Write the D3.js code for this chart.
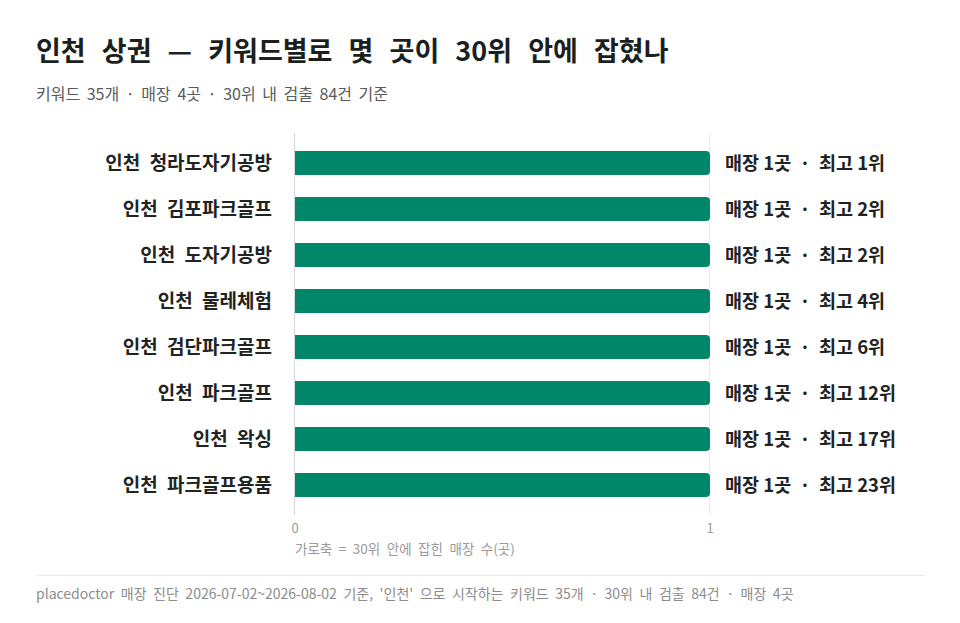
<!DOCTYPE html>
<html>
<head>
<meta charset="utf-8">
<script src="https://cdn.jsdelivr.net/npm/d3@7"></script>
<style>
  body { margin: 0; background: #fff; }
  svg { font-family: "Noto Sans CJK KR", "Noto Sans", sans-serif; display: block; }
</style>
</head>
<body>
<svg id="chart" width="960" height="623"></svg>
<script>
// 키워드별 30위 안 매장 수 / 최고 순위
let keywords = ['인천 청라도자기공방', '인천 김포파크골프', '인천 도자기공방', '인천 물레체험',
    '인천 검단파크골프', '인천 파크골프', '인천 왁싱', '인천 파크골프용품']
let storeCounts = [1, 1, 1, 1, 1, 1, 1, 1]
let bestRanks = [1, 2, 2, 4, 6, 12, 17, 23]
let xTicks = [0, 1]

let data = keywords.map(function (k, i) {
    return {keyword: k, count: storeCounts[i], best: bestRanks[i]}
})

let svg = d3.select('#chart')
let margin = {top: 140, right: 250, bottom: 115, left: 295}

// 제목
svg.append('text')
    .attr('x', 36).attr('y', 61)
    .style('font-size', '27px').style('font-weight', 700)
    .style('word-spacing', '10px')
    .style('fill', '#1b1f1d')
    .text('인천 상권 — 키워드별로 몇 곳이 30위 안에 잡혔나')
svg.append('text')
    .attr('x', 36).attr('y', 100)
    .style('font-size', '16px')
    .style('word-spacing', '3px')
    .style('fill', '#5a5a5a')
    .text('키워드 35개 · 매장 4곳 · 30위 내 검출 84건 기준')

let x = d3.scaleLinear()
    .domain([0, 1])
    .range([margin.left, 710])

let y = d3.scaleBand()
    .domain(keywords)
    .range([margin.top, 508])
    .paddingInner(0.48)
    .paddingOuter(0.24)

// 세로 격자선
svg.append('g')
    .selectAll('line')
    .data(xTicks)
    .enter()
    .append('line')
    .attr('x1', function (d) { return x(d) - 0.5 })
    .attr('x2', function (d) { return x(d) - 0.5 })
    .attr('y1', 133)
    .attr('y2', 515)
    .style('stroke', function (d) { return d === 0 ? '#d4d8d6' : '#e8ebea' })
    .style('stroke-width', 1)

// 막대 (오른쪽 끝만 둥글게)
let r = 4
svg.append('g')
    .selectAll('path')
    .data(data)
    .enter()
    .append('path')
    .attr('d', function (d) {
        let x0 = x(0), x1 = x(d.count), y0 = y(d.keyword), h = y.bandwidth()
        return 'M' + x0 + ',' + y0 +
            'H' + (x1 - r) +
            'Q' + x1 + ',' + y0 + ' ' + x1 + ',' + (y0 + r) +
            'V' + (y0 + h - r) +
            'Q' + x1 + ',' + (y0 + h) + ' ' + (x1 - r) + ',' + (y0 + h) +
            'H' + x0 + 'Z'
    })
    .style('fill', '#00876a')

// 키워드 라벨
svg.append('g')
    .selectAll('text')
    .data(data)
    .enter()
    .append('text')
    .attr('x', margin.left - 23)
    .attr('y', function (d) { return y(d.keyword) + y.bandwidth() / 2 })
    .attr('dy', '0.36em')
    .attr('text-anchor', 'end')
    .style('font-size', '19px').style('font-weight', 700)
    .style('word-spacing', '5px')
    .style('fill', '#1f2321')
    .text(function (d) { return d.keyword })

// 값 라벨
svg.append('g')
    .selectAll('text')
    .data(data)
    .enter()
    .append('text')
    .attr('x', function (d) { return x(d.count) + 15 })
    .attr('y', function (d) { return y(d.keyword) + y.bandwidth() / 2 })
    .attr('dy', '0.36em')
    .style('font-size', '18.5px').style('font-weight', 700)
    .style('white-space', 'pre')
    .style('fill', '#1f2321')
    .text(function (d) { return '매장 ' + d.count + '곳  ·  최고 ' + d.best + '위' })

// x축 눈금
svg.append('g')
    .selectAll('text')
    .data(xTicks)
    .enter()
    .append('text')
    .attr('x', function (d) { return x(d) })
    .attr('y', 533)
    .attr('text-anchor', 'middle')
    .style('font-size', '13px')
    .style('fill', '#9a9a9a')
    .text(function (d) { return d })

svg.append('text')
    .attr('x', margin.left).attr('y', 554)
    .style('font-size', '13.5px')
    .style('word-spacing', '3.5px')
    .style('fill', '#9a9a9a')
    .text('가로축 = 30위 안에 잡힌 매장 수(곳)')

// 하단 구분선 + 출처
svg.append('line')
    .attr('x1', 36).attr('x2', 925)
    .attr('y1', 575.5).attr('y2', 575.5)
    .style('stroke', '#ebebeb')
svg.append('text')
    .attr('x', 36).attr('y', 599)
    .style('font-size', '14px')
    .style('word-spacing', '3.4px')
    .style('fill', '#8c8c8c')
    .text("placedoctor 매장 진단 2026-07-02~2026-08-02 기준, '인천' 으로 시작하는 키워드 35개 · 30위 내 검출 84건 · 매장 4곳")
</script>
</body>
</html>
